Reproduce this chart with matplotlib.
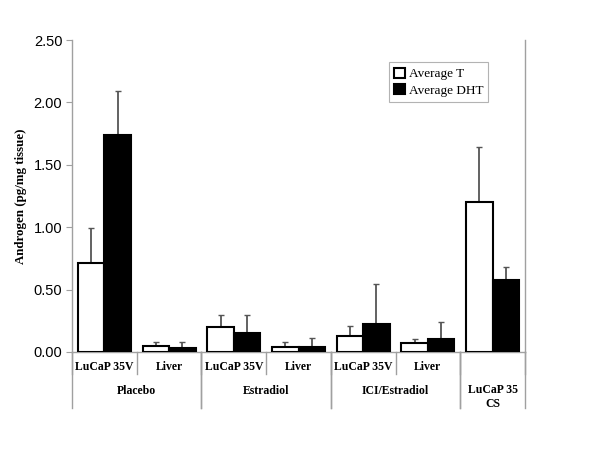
import matplotlib
matplotlib.use('Agg')
import matplotlib.pyplot as plt
import numpy as np

tissues = ['LuCaP 35V', 'Liver', 'LuCaP 35V', 'Liver', 'LuCaP 35V', 'Liver', '']
groups = ['Placebo', 'Estradiol', 'ICI/Estradiol', 'LuCaP 35\nCS']
group_span = [(0, 1), (2, 3), (4, 5), (6, 6)]

avg_t = [0.71, 0.045, 0.20, 0.043, 0.128, 0.07, 1.20]
sd_t = [0.28, 0.035, 0.095, 0.035, 0.078, 0.03, 0.44]
avg_dht = [1.735, 0.035, 0.15, 0.04, 0.227, 0.10, 0.577]
sd_dht = [0.36, 0.045, 0.145, 0.07, 0.315, 0.14, 0.107]

serif = ['Liberation Serif', 'DejaVu Serif']
sans = ['Liberation Sans', 'DejaVu Sans']
axis_grey = '#a0a0a0'

fig = plt.figure(figsize=(6, 4.5), dpi=100)
ax = fig.add_axes([0.12, 0.218, 0.755, 0.693])

x = np.arange(len(tissues))
w = 0.41
ax.bar(x - w / 2, avg_t, w, color='white', edgecolor='black', linewidth=1.5,
       label='Average T', zorder=3)
ax.bar(x + w / 2, avg_dht, w, color='black', edgecolor='black', linewidth=1.5,
       label='Average DHT', zorder=3)
ax.errorbar(x - w / 2, avg_t, yerr=[np.zeros(len(x)), sd_t], fmt='none',
            ecolor='#555555', elinewidth=1.3, capsize=2.5, capthick=1, zorder=2)
ax.errorbar(x + w / 2, avg_dht, yerr=[np.zeros(len(x)), sd_dht], fmt='none',
            ecolor='#555555', elinewidth=1.3, capsize=2.5, capthick=1, zorder=2)

ax.set_xlim(-0.5, len(x) - 0.5)
ax.set_ylim(0, 2.5)
ax.set_yticks(np.arange(0, 2.51, 0.5))
ax.set_yticklabels([f'{v:.2f}' for v in np.arange(0, 2.51, 0.5)],
                   family=sans, fontsize=10.5)
ax.tick_params(axis='y', direction='out', length=4, color=axis_grey, pad=3)
ax.set_xticks([])
ax.set_ylabel('Androgen (pg/mg tissue)', family=serif, fontweight='bold',
              fontsize=9.3, labelpad=5)

for s in ['left', 'bottom', 'right']:
    ax.spines[s].set_color(axis_grey)
    ax.spines[s].set_linewidth(1)
ax.spines['top'].set_visible(False)

# multi-level category axis under the plot
trans = ax.get_xaxis_transform()
lvl1 = -0.07
lvl2 = -0.18
for i, name in enumerate(tissues):
    if name:
        ax.text(i, -0.048, name, transform=trans, ha='center', va='center',
                family=serif, fontweight='bold', fontsize=8.5)
for i in range(len(tissues) + 1):
    ax.plot([i - 0.5, i - 0.5], [0, lvl1], transform=trans, color=axis_grey,
            lw=1, clip_on=False)
for (a, b), g in zip(group_span, groups):
    ax.plot([a - 0.5, a - 0.5], [0, lvl2], transform=trans, color=axis_grey,
            lw=1, clip_on=False)
    ax.plot([b + 0.5, b + 0.5], [0, lvl2], transform=trans, color=axis_grey,
            lw=1, clip_on=False)
    ypos = -0.125 if '\n' not in g else -0.145
    ax.text((a + b) / 2, ypos, g, transform=trans, ha='center', va='center',
            family=serif, fontweight='bold', fontsize=8.5, linespacing=1.2)

leg = ax.legend(loc='upper left', bbox_to_anchor=(0.685, 0.95), frameon=True,
                fancybox=False, edgecolor=axis_grey, handlelength=0.8,
                handleheight=0.8, handletextpad=0.3, borderpad=0.4,
                labelspacing=0.3, prop={'family': serif, 'size': 9.5})
leg.get_frame().set_linewidth(0.8)

fig.savefig('out.png', dpi=100, facecolor='white')
